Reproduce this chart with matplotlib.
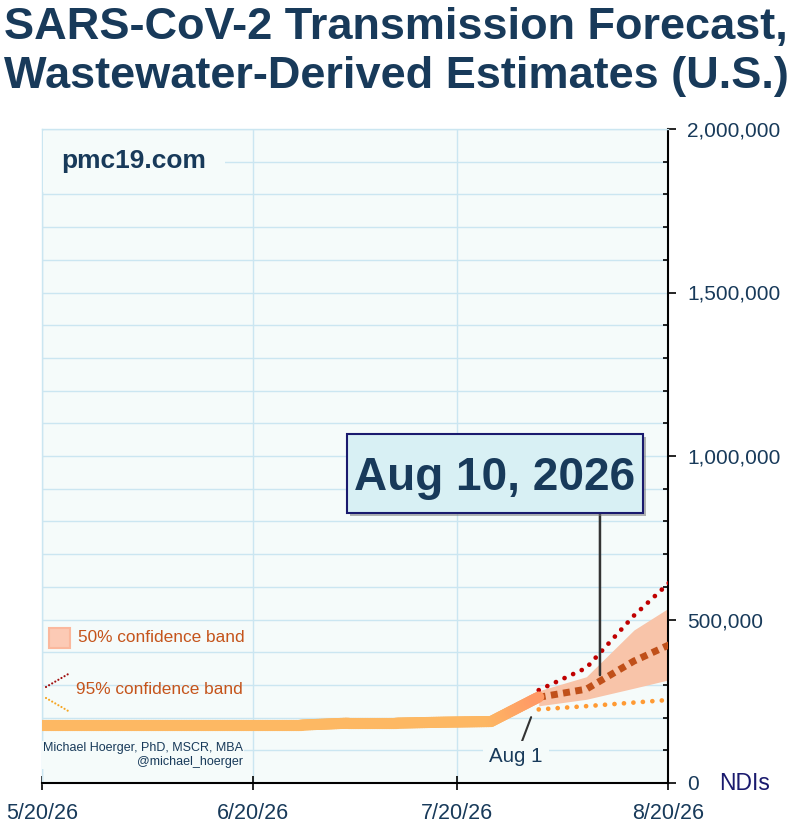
import matplotlib
matplotlib.use('Agg')
import matplotlib.pyplot as plt
import matplotlib.dates as mdates
import matplotlib.patheffects as pe
from matplotlib.ticker import FixedLocator, MultipleLocator
from matplotlib.collections import LineCollection
from matplotlib.patches import Rectangle
from matplotlib.colors import LinearSegmentedColormap, Normalize
import numpy as np
import pandas as pd

plt.rcParams['font.family'] = ['Liberation Sans', 'DejaVu Sans']

# ---------------- data ----------------
hist_dates = ['2026-05-16', '2026-05-23', '2026-05-30', '2026-06-06', '2026-06-13',
              '2026-06-20', '2026-06-27', '2026-07-04', '2026-07-11', '2026-07-18',
              '2026-07-25', '2026-08-01']
hist_values = [177000, 177000, 177000, 177000, 177000,
               177000, 177000, 183000, 183000, 186000,
               188000, 263000]

fc_dates = ['2026-08-01', '2026-08-08', '2026-08-15', '2026-08-22']
fc_median = [262000, 287000, 373000, 440000]
fc_50_lo = [236000, 256000, 290000, 325000]
fc_50_hi = [282000, 325000, 468000, 560000]
fc_95_lo = [225000, 235000, 246000, 257000]
fc_95_hi = [284000, 352000, 512000, 648000]

x_tick_dates = ['2026-05-20', '2026-06-20', '2026-07-20', '2026-08-20']
x_tick_labels = ['5/20/26', '6/20/26', '7/20/26', '8/20/26']
y_ticks = [0, 500000, 1000000, 1500000, 2000000]
y_tick_labels = ['0', '500,000', '1,000,000', '1,500,000', '2,000,000']

highlight_date = '2026-08-10'
highlight_label = 'Aug 10, 2026'
aug1_label = 'Aug 1'

title_lines = ['SARS-CoV-2 Transmission Forecast,', 'Wastewater-Derived Estimates (U.S.)']

# ---------------- style ----------------
NAVY = '#183A5A'
BG = '#F5FBFA'
GRID = '#CBE6F1'
LEG = '#C5541B'


def ax_x(px):
    return (px - 42) / 626


def ax_y(py):
    return (783 - py) / 654


fig = plt.figure(figsize=(7.96, 8.26), dpi=100)
ax = fig.add_axes([42 / 796, 43 / 826, 626 / 796, 654 / 826])
ax.set_facecolor(BG)

hd = mdates.date2num(pd.to_datetime(hist_dates))
fd = pd.to_datetime(fc_dates)
xt = pd.to_datetime(x_tick_dates)

ax.set_xlim(xt[0], xt[-1])
ax.set_ylim(0, 2000000)

# grid / ticks
ax.yaxis.set_major_locator(FixedLocator(y_ticks))
ax.yaxis.set_minor_locator(MultipleLocator(100000))
ax.set_yticklabels(y_tick_labels)
ax.xaxis.set_major_locator(FixedLocator(mdates.date2num(xt)))
ax.set_xticklabels(x_tick_labels)
ax.set_axisbelow(True)
ax.grid(axis='y', which='both', color=GRID, lw=1)
ax.grid(axis='x', which='major', color=GRID, lw=1)

ax.yaxis.tick_right()
ax.tick_params(axis='y', which='major', direction='out', length=6, width=1.2,
               color='black', pad=8, labelsize=15, labelcolor=NAVY)
ax.tick_params(axis='y', which='minor', direction='in', length=3.5, width=1.2, color='black')
ax.tick_params(axis='x', which='major', direction='inout', length=9.5, width=1.2,
               color='black', pad=9.5, labelsize=15.5, labelcolor=NAVY)

for s in ['left', 'top']:
    ax.spines[s].set_color(GRID)
    ax.spines[s].set_linewidth(1)
for s in ['bottom', 'right']:
    ax.spines[s].set_color('black')
    ax.spines[s].set_linewidth(1.5)

# forecast
ax.fill_between(fd, fc_50_lo, fc_50_hi, color='#F8C4A9', lw=0, zorder=2)
ax.plot(fd, fc_95_hi, color='#C00000', lw=3.4, dashes=(0.01, 2.0),
        dash_capstyle='round', zorder=3)
ax.plot(fd, fc_95_lo, color='#FF9A33', lw=3.4, dashes=(0.01, 2.0),
        dash_capstyle='round', zorder=3)
ax.plot(fd, fc_median, color='#C0501A', lw=5, dashes=(1, 0.78),
        dash_capstyle='butt', zorder=4)

# historical line with value gradient
cmap = LinearSegmentedColormap.from_list('hist', ['#FDB863', '#FF9966'])
norm = Normalize(185000, 263000)
segs, cols = [], []
for i in range(len(hd) - 1):
    t = np.linspace(0, 1, 21)
    xs = hd[i] + t * (hd[i + 1] - hd[i])
    ys = hist_values[i] + t * (hist_values[i + 1] - hist_values[i])
    for j in range(len(t) - 1):
        segs.append([(xs[j], ys[j]), (xs[j + 1], ys[j + 1])])
        cols.append(cmap(norm((ys[j] + ys[j + 1]) / 2)))
lc = LineCollection(segs, colors=cols, linewidths=8, capstyle='round', zorder=5)
ax.add_collection(lc)

# highlight annotation
hdt = pd.to_datetime(highlight_date)
ax.annotate('', xy=(hdt, 330000), xytext=(hdt, ax_y(513)),
            xycoords='data', textcoords=('data', 'axes fraction'),
            arrowprops=dict(arrowstyle='-', color='#333333', lw=1.8,
                            shrinkA=0, shrinkB=0), zorder=6)
box = Rectangle((ax_x(347), ax_y(513)), 296 / 626, 79 / 654, transform=ax.transAxes,
                fc='#D8F0F4', ec='#1A1A6E', lw=1.5, zorder=7)
box.set_path_effects([pe.withSimplePatchShadow(offset=(2, -2), shadow_rgbFace='#777777',
                                               alpha=0.55)])
ax.add_patch(box)
ax.text(ax_x(495), ax_y(490), highlight_label, transform=ax.transAxes,
        ha='center', va='baseline', fontsize=33, fontweight='bold', color=NAVY, zorder=8)

ax.annotate(aug1_label, xy=(fd[0], hist_values[-1]), xycoords='data',
            xytext=(-16.3, -43.2), textcoords='offset points',
            ha='center', va='center', fontsize=14.8, color=NAVY,
            bbox=dict(boxstyle='square,pad=0.3', fc=BG, ec='none'),
            arrowprops=dict(arrowstyle='-', color='#333333', lw=1.5,
                            shrinkA=0, shrinkB=15.5), zorder=6)

ax.text(ax_x(133.7), ax_y(168.3), 'pmc19.com', transform=ax.transAxes,
        ha='center', va='baseline', fontsize=19, fontweight='bold', color=NAVY,
        bbox=dict(boxstyle='square,pad=0.7', fc=BG, ec='none'), zorder=4)

# legend (manual)
ax.add_patch(Rectangle((ax_x(49), ax_y(648)), 21 / 626, 20 / 654,
                       transform=ax.transAxes, fc='#FCCAB5', ec='#FBB89D', lw=1.5, zorder=4))
ax.text(ax_x(78), ax_y(638), '50% confidence band', transform=ax.transAxes,
        ha='left', va='center', fontsize=12.4, color=LEG, zorder=4)
ax.plot([ax_x(46), ax_x(70)], [ax_y(687), ax_y(673)], transform=ax.transAxes,
        color='#A01010', lw=1.6, dashes=(0.01, 1.6), dash_capstyle='round', zorder=4)
ax.plot([ax_x(46), ax_x(70)], [ax_y(698), ax_y(712)], transform=ax.transAxes,
        color='#F5A623', lw=1.6, dashes=(0.01, 1.6), dash_capstyle='round', zorder=4)
ax.text(ax_x(76), ax_y(690), '95% confidence band', transform=ax.transAxes,
        ha='left', va='center', fontsize=12.4, color=LEG, zorder=4)

ax.text(ax_x(243), ax_y(755), 'Michael Hoerger, PhD, MSCR, MBA\n@michael_hoerger',
        transform=ax.transAxes, ha='right', va='center', fontsize=9, color=NAVY,
        linespacing=1.2, bbox=dict(boxstyle='square,pad=0.1', fc=BG, ec='none'), zorder=4)

ax.text(ax_x(719), 0, 'NDIs', transform=ax.transAxes, ha='left', va='center',
        fontsize=16.5, color='#1A1A6E')

# title
fig.text(4 / 796, 1 - 39 / 826, title_lines[0], ha='left', va='baseline',
         fontsize=32.5, fontweight='bold', color=NAVY)
fig.text(4 / 796, 1 - 88 / 826, title_lines[1], ha='left', va='baseline',
         fontsize=32.5, fontweight='bold', color=NAVY)

fig.savefig('out.png', dpi=100, facecolor='white')
